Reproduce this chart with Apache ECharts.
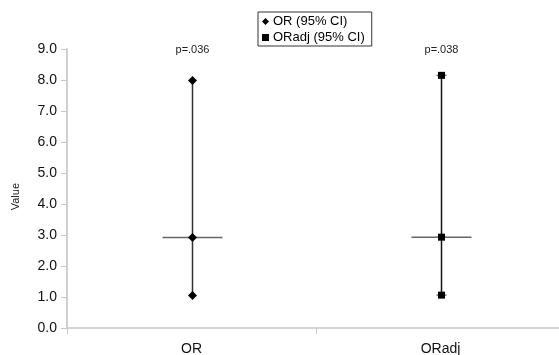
<!DOCTYPE html>
<html><head><meta charset="utf-8">
<script src="https://cdn.jsdelivr.net/npm/echarts@6/dist/echarts.min.js"></script>
<style>html,body{margin:0;padding:0;background:#fff}#c{width:559px;height:355px}</style>
</head><body><div id="c"></div>
<script>
var categories = ['OR', 'ORadj'];
var seriesNames = ['OR (95% CI)', 'ORadj (95% CI)'];
var pointValues = [2.92, 2.93];
var lowerValues = [1.05, 1.06];
var upperValues = [7.98, 8.15];
var pLabels = ['p=.036', 'p=.038'];
var yTicks = [0, 1, 2, 3, 4, 5, 6, 7, 8, 9];

var chart = echarts.init(document.getElementById('c'), null, {renderer: 'canvas'});
var FONT = '"Liberation Sans", Arial, sans-serif';

function makeRender(shape) {
  return function (params, api) {
    var cat = api.value(0);
    var lo = api.coord([cat, api.value(1)]);
    var hi = api.coord([cat, api.value(2)]);
    var mid = api.coord([cat, api.value(3)]);
    var top = api.coord([cat, yTicks[yTicks.length - 1]]);
    var x = Math.round(mid[0]) + 0.5;
    var children = [];
    children.push({type: 'line', shape: {x1: x, y1: lo[1], x2: x, y2: hi[1]}, style: {stroke: shape === 'diamond' ? '#333' : '#111', lineWidth: 1.5}});
    children.push({type: 'line', shape: {x1: x - 30, y1: mid[1], x2: x + 30, y2: mid[1]}, style: {stroke: '#666', lineWidth: 1.5}});
    function marker(p) {
      if (shape === 'diamond') {
        var s = 4.5;
        children.push({type: 'polygon', shape: {points: [[x, p[1] - s], [x + s, p[1]], [x, p[1] + s], [x - s, p[1]]]}, style: {fill: '#000'}});
      } else {
        children.push({type: 'line', shape: {x1: x - 5, y1: p[1], x2: x + 5, y2: p[1]}, style: {stroke: '#777', lineWidth: 1.5}});
        children.push({type: 'rect', shape: {x: x - 3.5, y: p[1] - 3.5, width: 7, height: 7}, style: {fill: '#000'}});
      }
    }
    marker(lo); marker(hi); marker(mid);
    children.push({type: 'text', style: {text: pLabels[cat], x: x, y: top[1] + 1, align: 'center', verticalAlign: 'middle', font: '11px ' + FONT, fill: '#222'}});
    return {type: 'group', children: children};
  };
}

var series = categories.map(function (c, i) {
  return {
    name: seriesNames[i],
    type: 'custom',
    renderItem: makeRender(i === 0 ? 'diamond' : 'rect'),
    itemStyle: {color: '#000'},
    data: [[i, lowerValues[i], upperValues[i], pointValues[i]]],
    encode: {x: 0, y: [1, 2, 3]},
    silent: true,
    animation: false
  };
});

chart.setOption({
  animation: false,
  grid: {left: 67, top: 49, bottom: 27, right: -6, containLabel: false, outerBoundsMode: 'none'},
  legend: {
    orient: 'vertical', left: 258, top: 12,
    data: [{name: seriesNames[0], icon: 'diamond'}, {name: seriesNames[1], icon: 'rect'}],
    itemWidth: 7, itemHeight: 7, itemGap: 3,
    padding: [3, 7, 2, 4],
    borderColor: '#333', borderWidth: 1, backgroundColor: '#fff',
    textStyle: {fontSize: 13, fontFamily: FONT, color: '#000', padding: [0, 0, 0, -1]},
    selectedMode: false
  },
  xAxis: {
    type: 'category', data: categories, boundaryGap: true,
    axisLine: {lineStyle: {color: '#c8c8c8', width: 1.5}},
    axisTick: {show: true, length: 6, lineStyle: {color: '#c8c8c8'}},
    axisLabel: {fontSize: 14, fontFamily: FONT, color: '#111', margin: 14}
  },
  yAxis: {
    type: 'value', min: 0, max: 9, interval: 1,
    axisLine: {show: true, lineStyle: {color: '#d0d0d0', width: 2}},
    axisTick: {show: true, length: 6, lineStyle: {color: '#c8c8c8'}},
    splitLine: {show: false},
    axisLabel: {fontSize: 14, fontFamily: FONT, color: '#111', margin: 10, formatter: function (v) { return v.toFixed(1); }}
  },
  graphic: [{
    type: 'text', left: 10, top: 183, rotation: Math.PI / 2,
    style: {text: 'Value', font: '11px ' + FONT, fill: '#222'}
  }],
  series: series
});
</script></body></html>
